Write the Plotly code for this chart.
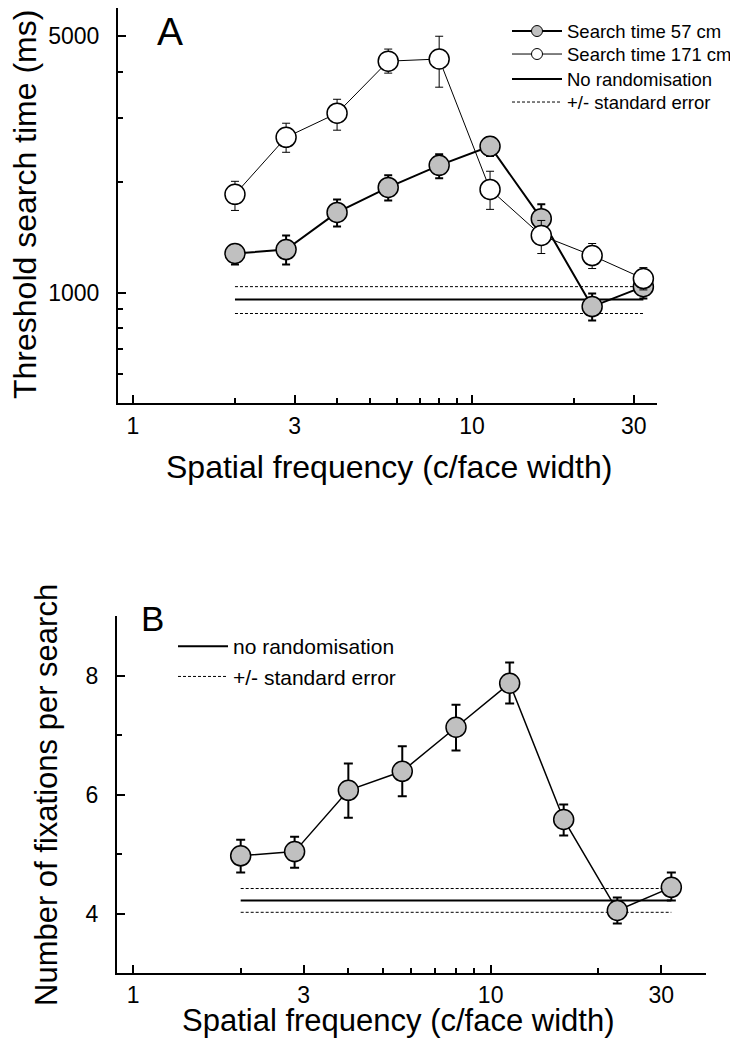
import numpy as np
import plotly.graph_objects as go

# ---------------- data ----------------
freq = [2, 2.83, 4, 5.66, 8, 11.3, 16, 22.6, 32]

# Panel A: threshold search time (ms)
a57 = [1278, 1310, 1654, 1935, 2223, 2506, 1591, 916, 1038]
a57_plus = [66, 122, 141, 153, 160, 150, 149, 78, 82]
a57_minus = [85, 117, 140, 152, 174, 150, 114, 77, 75]

a171 = [1853, 2651, 3084, 4276, 4334, 1911, 1432, 1262, 1092]
a171_plus = [158, 245, 282, 337, 666, 231, 141, 99, 78]
a171_minus = [178, 238, 312, 310, 703, 225, 154, 99, 75]

a_norand = 957
a_se_hi = 1038
a_se_lo = 877

# Panel B: number of fixations per search
b_fix = [4.97, 5.04, 6.07, 6.39, 7.13, 7.87, 5.58, 4.05, 4.44]
b_plus = [0.27, 0.25, 0.45, 0.42, 0.38, 0.35, 0.25, 0.22, 0.25]
b_minus = [0.28, 0.27, 0.46, 0.42, 0.39, 0.34, 0.27, 0.22, 0.22]

b_norand = 4.22
b_se_hi = 4.42
b_se_lo = 4.02

ref_x = [2, 32]

x_tickvals = [1, 3, 10, 30]
x_ticktext = ["1", "3", "10", "30"]
a_y_tickvals = [1000, 5000]
b_y_tickvals = [4, 6, 8]

# ---------------- layout constants ----------------
W, H = 738, 1044
OFF = 8  # page body margin of the html page
FONT = "Liberation Sans, Arial, Helvetica, sans-serif"
GRAY = "#c0c0c0"


def px_x(p):
    return min(1.0, max(0.0, (p - OFF) / W))


def px_y(p):
    return min(1.0, max(0.0, 1 - (p - OFF) / H))


fig = go.Figure()

# ----- Panel A -----
fig.add_trace(go.Scatter(
    x=ref_x, y=[a_norand, a_norand], mode="lines",
    line=dict(color="black", width=2), name="No randomisation",
    xaxis="x", yaxis="y", legend="legend4"))
fig.add_trace(go.Scatter(
    x=ref_x + [None] + ref_x, y=[a_se_hi, a_se_hi, None, a_se_lo, a_se_lo],
    mode="lines", line=dict(color="black", width=1, dash="3px,2px"),
    name="+/- standard error", xaxis="x", yaxis="y", legend="legend5"))
fig.add_trace(go.Scatter(
    x=freq, y=a57, mode="lines+markers", name="Search time 57 cm",
    showlegend=False,
    line=dict(color="black", width=2),
    marker=dict(size=20, color=GRAY, line=dict(color="black", width=1.5)),
    error_y=dict(type="data", symmetric=False, array=a57_plus,
                 arrayminus=a57_minus, color="black", thickness=2, width=4),
    xaxis="x", yaxis="y"))
fig.add_trace(go.Scatter(
    x=freq, y=a171, mode="lines+markers", name="Search time 171 cm",
    showlegend=False,
    line=dict(color="black", width=1),
    marker=dict(size=20, color="white", line=dict(color="black", width=1.5)),
    error_y=dict(type="data", symmetric=False, array=a171_plus,
                 arrayminus=a171_minus, color="black", thickness=1, width=4),
    xaxis="x", yaxis="y"))
# legend keys for the two series (smaller symbols, as in the original key)
fig.add_trace(go.Scatter(
    x=[None], y=[None], mode="lines+markers", name="Search time 57 cm",
    line=dict(color="black", width=2),
    marker=dict(size=11, color=GRAY, line=dict(color="black", width=1)),
    xaxis="x", yaxis="y", legend="legend"))
fig.add_trace(go.Scatter(
    x=[None], y=[None], mode="lines+markers", name="Search time 171 cm",
    line=dict(color="black", width=1),
    marker=dict(size=11, color="white", line=dict(color="black", width=1)),
    xaxis="x", yaxis="y", legend="legend3"))

# ----- Panel B -----
fig.add_trace(go.Scatter(
    x=ref_x, y=[b_norand, b_norand], mode="lines",
    line=dict(color="black", width=2), name="no randomisation",
    xaxis="x2", yaxis="y2", legend="legend2", legendrank=1))
fig.add_trace(go.Scatter(
    x=ref_x + [None] + ref_x, y=[b_se_hi, b_se_hi, None, b_se_lo, b_se_lo],
    mode="lines", line=dict(color="black", width=1, dash="3px,2px"),
    name="+/- standard error", xaxis="x2", yaxis="y2", legend="legend2",
    legendrank=2))
fig.add_trace(go.Scatter(
    x=freq, y=b_fix, mode="lines+markers", name="fixations",
    showlegend=False,
    line=dict(color="black", width=1.5),
    marker=dict(size=20, color=GRAY, line=dict(color="black", width=1.5)),
    error_y=dict(type="data", symmetric=False, array=b_plus,
                 arrayminus=b_minus, color="black", thickness=2, width=4.5),
    xaxis="x2", yaxis="y2"))

axis_common = dict(
    showline=True, linecolor="black", linewidth=2, showgrid=False,
    zeroline=False, ticks="inside", tickcolor="black", tickwidth=1.5,
    ticklen=8, tickfont=dict(family=FONT, size=23, color="black"),
)

A_LEG_FONT = 18.5


def a_legend(center_y):
    return dict(
        x=px_x(507), y=px_y(center_y - A_LEG_FONT), xanchor="left",
        yanchor="top",
        font=dict(family=FONT, size=A_LEG_FONT, color="black"),
        bgcolor="rgba(0,0,0,0)", borderwidth=0, itemsizing="trace",
        itemwidth=50, tracegroupgap=0,
    )


fig.update_layout(
    width=W, height=H, autosize=False,
    margin=dict(l=0, r=0, t=0, b=0),
    paper_bgcolor="white", plot_bgcolor="white",
    font=dict(family=FONT, color="black"),
    xaxis=dict(
        axis_common, type="log", domain=[px_x(118), px_x(657)],
        range=[np.log10(0.904), np.log10(35.1)], anchor="y",
        tickvals=x_tickvals, ticktext=x_ticktext, ticklabelstandoff=1,
        minor=dict(tickvals=[2, 4, 5, 6, 7, 8, 9, 20], ticks="inside",
                   ticklen=5, tickcolor="black", tickwidth=1.5),
    ),
    yaxis=dict(
        axis_common, type="log", domain=[px_y(403), px_y(8)],
        range=[np.log10(500), np.log10(5970)], anchor="x",
        tickvals=a_y_tickvals, ticktext=["1000", "5000"], ticklabelstandoff=12,
        minor=dict(tickvals=[600, 700, 800, 900, 2000, 3000, 4000],
                   ticks="inside", ticklen=5, tickcolor="black", tickwidth=1.5),
    ),
    xaxis2=dict(
        axis_common, type="log", domain=[px_x(117), px_x(706)],
        range=[np.log10(0.902), np.log10(40)], anchor="y2",
        tickvals=x_tickvals, ticktext=x_ticktext, ticklabelstandoff=0,
        minor=dict(tickvals=[2, 4, 5, 6, 7, 8, 9, 20, 40], ticks="inside",
                   ticklen=5, tickcolor="black", tickwidth=1.5),
    ),
    yaxis2=dict(
        axis_common, type="linear", domain=[px_y(973), px_y(616)],
        range=[3, 9], anchor="x2",
        tickvals=b_y_tickvals, ticktext=["4", "6", "8"], ticklabelstandoff=12,
        minor=dict(tickvals=[3, 5, 7, 9], ticks="inside", ticklen=5,
                   tickcolor="black", tickwidth=1.5),
    ),
    legend=a_legend(31),
    legend3=a_legend(54),
    legend4=a_legend(79),
    legend5=a_legend(102),
    legend2=dict(
        x=px_x(173), y=px_y(626), xanchor="left", yanchor="top",
        font=dict(family=FONT, size=21, color="black"),
        bgcolor="rgba(0,0,0,0)", borderwidth=0, itemwidth=50,
        tracegroupgap=0, traceorder="normal",
    ),
    showlegend=True,
)

annotations = [
    dict(text="A", x=px_x(170), y=px_y(32), font=dict(size=39)),
    dict(text="B", x=px_x(152), y=px_y(618), font=dict(size=35)),
    dict(text="Spatial frequency (c/face width)", x=px_x(389), y=px_y(467),
         font=dict(size=32)),
    dict(text="Spatial frequency (c/face width)", x=px_x(398), y=px_y(1020),
         font=dict(size=31)),
    dict(text="Threshold search time (ms)", x=px_x(25), y=px_y(205),
         font=dict(size=32), textangle=-90),
    dict(text="Number of fixations per search", x=px_x(46), y=px_y(795),
         font=dict(size=31), textangle=-90),
]
for a in annotations:
    a.update(xref="paper", yref="paper", showarrow=False,
             xanchor="center", yanchor="middle")
    a["font"].update(family=FONT, color="black")
fig.update_layout(annotations=annotations)

fig.write_html("out.html")
